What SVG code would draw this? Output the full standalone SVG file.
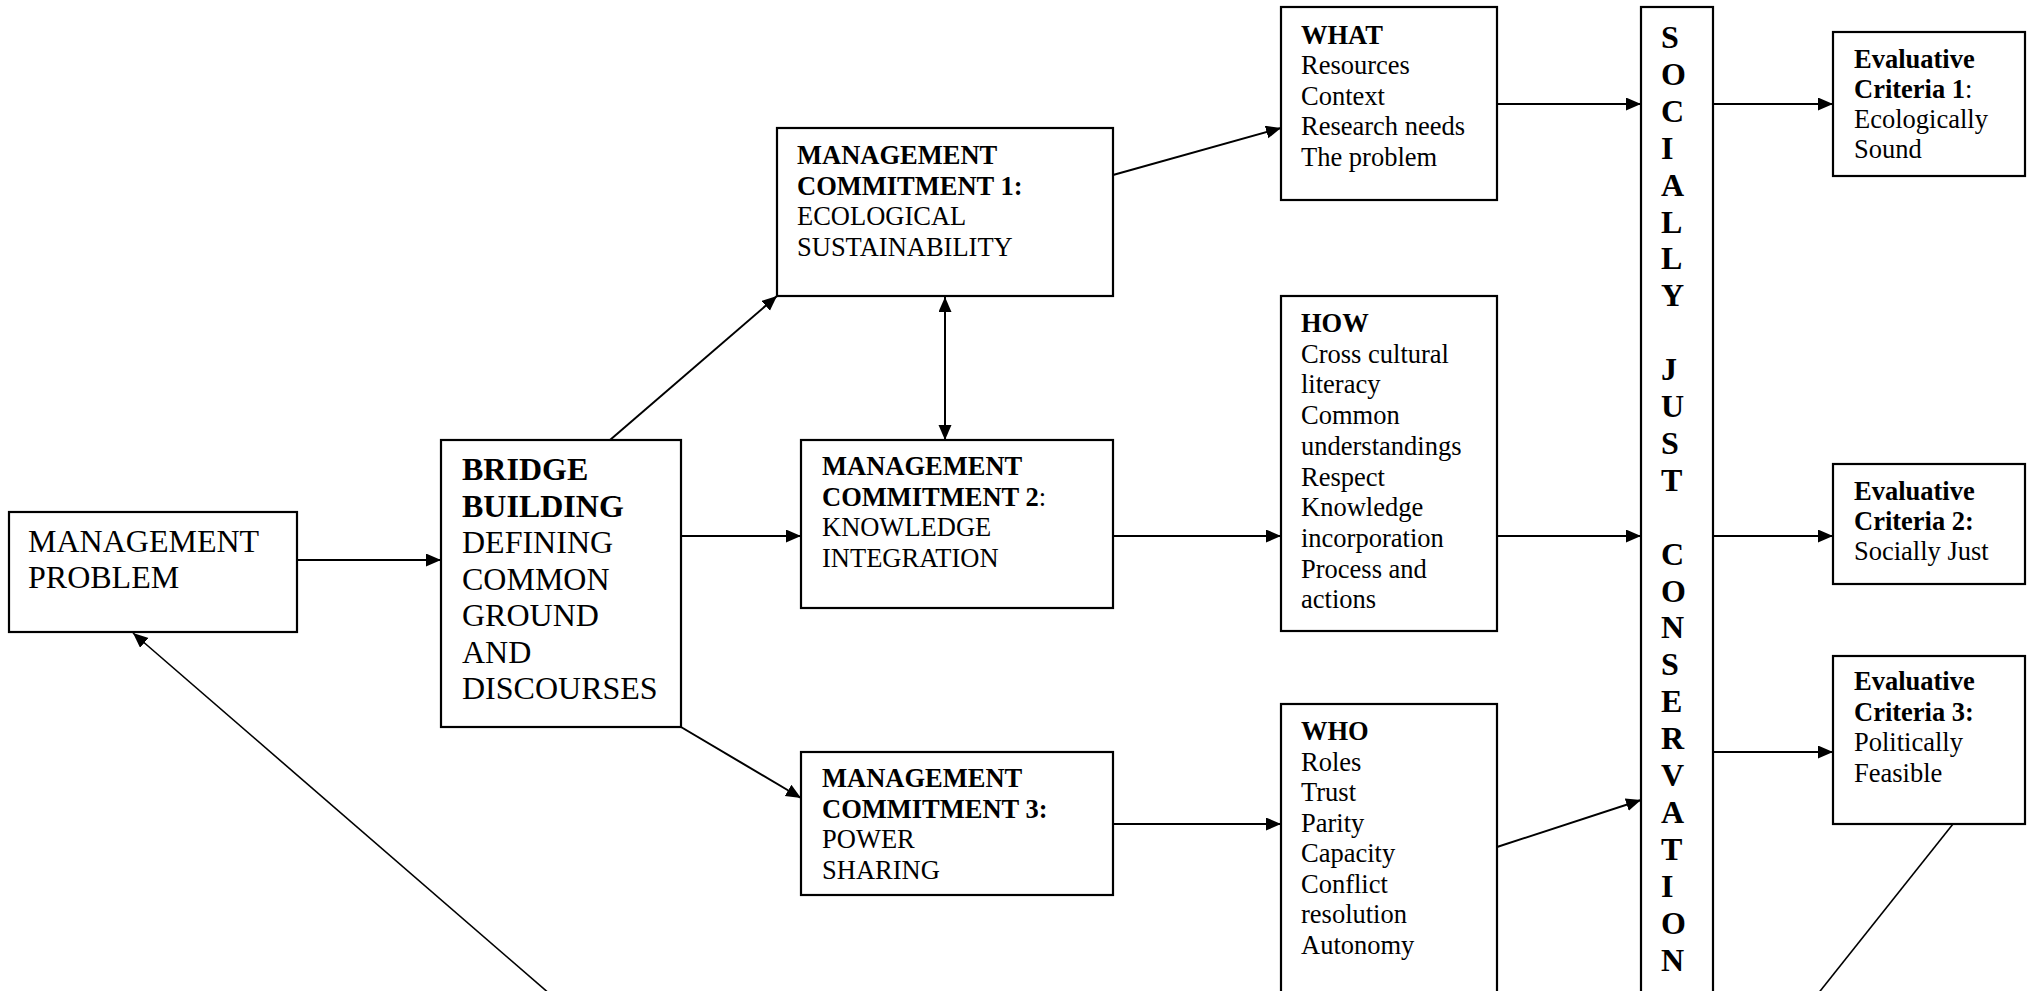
<svg xmlns="http://www.w3.org/2000/svg" width="2028" height="991" viewBox="0 0 2028 991">
<style>
  .box { fill: #fff; stroke: #000; stroke-width: 2.2; }
  .big { font-family: "Liberation Serif", "Times New Roman", serif; font-size: 32px; fill: #000; }
  .sm { font-family: "Liberation Serif", "Times New Roman", serif; font-size: 26.5px; fill: #000; }
  .b { font-weight: bold; }
  .c { fill: none; stroke: #000; stroke-width: 2; }
  .cl { fill: none; stroke: #000; stroke-width: 1.6; }
</style>
<defs>
  <marker id="ah" markerUnits="userSpaceOnUse" markerWidth="16" markerHeight="14" refX="15" refY="6.5" orient="auto-start-reverse">
    <path d="M0,0 L15,6.5 L0,13 z" fill="#000"/>
  </marker>
</defs>
<rect width="2028" height="991" fill="#fff"/>

<g id="connectors">
  <line class="c" x1="297" y1="560" x2="441" y2="560" marker-end="url(#ah)"/>
  <line class="c" x1="610" y1="440" x2="777" y2="296" marker-end="url(#ah)"/>
  <line class="c" x1="681" y1="536" x2="801" y2="536" marker-end="url(#ah)"/>
  <line class="c" x1="681" y1="727" x2="801" y2="798" marker-end="url(#ah)"/>
  <line class="c" x1="945" y1="297" x2="945" y2="440" marker-start="url(#ah)" marker-end="url(#ah)"/>
  <line class="c" x1="1113" y1="175" x2="1281" y2="128" marker-end="url(#ah)"/>
  <line class="c" x1="1113" y1="536" x2="1281" y2="536" marker-end="url(#ah)"/>
  <line class="c" x1="1113" y1="824" x2="1281" y2="824" marker-end="url(#ah)"/>
  <line class="c" x1="1497" y1="104" x2="1641" y2="104" marker-end="url(#ah)"/>
  <line class="c" x1="1497" y1="536" x2="1641" y2="536" marker-end="url(#ah)"/>
  <line class="c" x1="1497" y1="847" x2="1641" y2="800" marker-end="url(#ah)"/>
  <line class="c" x1="1713" y1="104" x2="1833" y2="104" marker-end="url(#ah)"/>
  <line class="c" x1="1713" y1="536" x2="1833" y2="536" marker-end="url(#ah)"/>
  <line class="c" x1="1713" y1="752" x2="1833" y2="752" marker-end="url(#ah)"/>
  <line class="cl" x1="1953" y1="824" x2="1817" y2="995"/>
  <line class="cl" x1="551" y1="995" x2="133" y2="633" marker-end="url(#ah)"/>
</g>

<g id="management-problem">
  <rect class="box" x="9" y="512" width="288" height="120"/>
  <text class="big" x="28" y="552">MANAGEMENT</text>
  <text class="big" x="28" y="588">PROBLEM</text>
</g>

<g id="bridge-building">
  <rect class="box" x="441" y="440" width="240" height="287"/>
  <text class="big" x="462" y="480"><tspan class="b">BRIDGE</tspan><tspan class="b" x="462" dy="36.5">BUILDING</tspan><tspan x="462" dy="36.5">DEFINING</tspan><tspan x="462" dy="36.5">COMMON</tspan><tspan x="462" dy="36.5">GROUND</tspan><tspan x="462" dy="36.5">AND</tspan><tspan x="462" dy="36.5">DISCOURSES</tspan></text>
</g>

<g id="commitment-1">
  <rect class="box" x="777" y="128" width="336" height="168"/>
  <text class="sm" x="797" y="164"><tspan class="b">MANAGEMENT</tspan><tspan class="b" x="797" dy="30.5">COMMITMENT 1:</tspan><tspan x="797" dy="30.5">ECOLOGICAL</tspan><tspan x="797" dy="30.5">SUSTAINABILITY</tspan></text>
</g>

<g id="commitment-2">
  <rect class="box" x="801" y="440" width="312" height="168"/>
  <text class="sm" x="822" y="475"><tspan class="b">MANAGEMENT</tspan><tspan class="b" x="822" dy="30.5">COMMITMENT 2</tspan><tspan>:</tspan><tspan x="822" dy="30.5">KNOWLEDGE</tspan><tspan x="822" dy="30.5">INTEGRATION</tspan></text>
</g>

<g id="commitment-3">
  <rect class="box" x="801" y="752" width="312" height="143"/>
  <text class="sm" x="822" y="787"><tspan class="b">MANAGEMENT</tspan><tspan class="b" x="822" dy="30.5">COMMITMENT 3:</tspan><tspan x="822" dy="30.5">POWER</tspan><tspan x="822" dy="30.5">SHARING</tspan></text>
</g>

<g id="what">
  <rect class="box" x="1281" y="7" width="216" height="193"/>
  <text class="sm" x="1301" y="44"><tspan class="b">WHAT</tspan><tspan x="1301" dy="30.4">Resources</tspan><tspan x="1301" dy="30.4">Context</tspan><tspan x="1301" dy="30.4">Research needs</tspan><tspan x="1301" dy="30.4">The problem</tspan></text>
</g>

<g id="how">
  <rect class="box" x="1281" y="296" width="216" height="335"/>
  <text class="sm" x="1301" y="332"><tspan class="b">HOW</tspan><tspan x="1301" dy="30.7">Cross cultural</tspan><tspan x="1301" dy="30.7">literacy</tspan><tspan x="1301" dy="30.7">Common</tspan><tspan x="1301" dy="30.7">understandings</tspan><tspan x="1301" dy="30.7">Respect</tspan><tspan x="1301" dy="30.7">Knowledge</tspan><tspan x="1301" dy="30.7">incorporation</tspan><tspan x="1301" dy="30.7">Process and</tspan><tspan x="1301" dy="30.7">actions</tspan></text>
</g>

<g id="who">
  <rect class="box" x="1281" y="704" width="216" height="300"/>
  <text class="sm" x="1301" y="740"><tspan class="b">WHO</tspan><tspan x="1301" dy="30.5">Roles</tspan><tspan x="1301" dy="30.5">Trust</tspan><tspan x="1301" dy="30.5">Parity</tspan><tspan x="1301" dy="30.5">Capacity</tspan><tspan x="1301" dy="30.5">Conflict</tspan><tspan x="1301" dy="30.5">resolution</tspan><tspan x="1301" dy="30.5">Autonomy</tspan></text>
</g>

<g id="socially-just-conservation">
  <rect class="box" x="1641" y="7" width="72" height="1000"/>
  <text class="big b" x="1661" y="48"><tspan>S</tspan><tspan x="1661" dy="36.9">O</tspan><tspan x="1661" dy="36.9">C</tspan><tspan x="1661" dy="36.9">I</tspan><tspan x="1661" dy="36.9">A</tspan><tspan x="1661" dy="36.9">L</tspan><tspan x="1661" dy="36.9">L</tspan><tspan x="1661" dy="36.9">Y</tspan><tspan x="1661" dy="73.8">J</tspan><tspan x="1661" dy="36.9">U</tspan><tspan x="1661" dy="36.9">S</tspan><tspan x="1661" dy="36.9">T</tspan><tspan x="1661" dy="73.8">C</tspan><tspan x="1661" dy="36.9">O</tspan><tspan x="1661" dy="36.9">N</tspan><tspan x="1661" dy="36.9">S</tspan><tspan x="1661" dy="36.9">E</tspan><tspan x="1661" dy="36.9">R</tspan><tspan x="1661" dy="36.9">V</tspan><tspan x="1661" dy="36.9">A</tspan><tspan x="1661" dy="36.9">T</tspan><tspan x="1661" dy="36.9">I</tspan><tspan x="1661" dy="36.9">O</tspan><tspan x="1661" dy="36.9">N</tspan></text>
</g>

<g id="criteria-1">
  <rect class="box" x="1833" y="32" width="192" height="144"/>
  <text class="sm" x="1854" y="68"><tspan class="b">Evaluative</tspan><tspan class="b" x="1854" dy="30">Criteria 1</tspan><tspan>:</tspan><tspan x="1854" dy="30">Ecologically</tspan><tspan x="1854" dy="30">Sound</tspan></text>
</g>

<g id="criteria-2">
  <rect class="box" x="1833" y="464" width="192" height="120"/>
  <text class="sm" x="1854" y="500"><tspan class="b">Evaluative</tspan><tspan class="b" x="1854" dy="30">Criteria 2:</tspan><tspan x="1854" dy="30">Socially Just</tspan></text>
</g>

<g id="criteria-3">
  <rect class="box" x="1833" y="656" width="192" height="168"/>
  <text class="sm" x="1854" y="690"><tspan class="b">Evaluative</tspan><tspan class="b" x="1854" dy="30.5">Criteria 3:</tspan><tspan x="1854" dy="30.5">Politically</tspan><tspan x="1854" dy="30.5">Feasible</tspan></text>
</g>
</svg>
